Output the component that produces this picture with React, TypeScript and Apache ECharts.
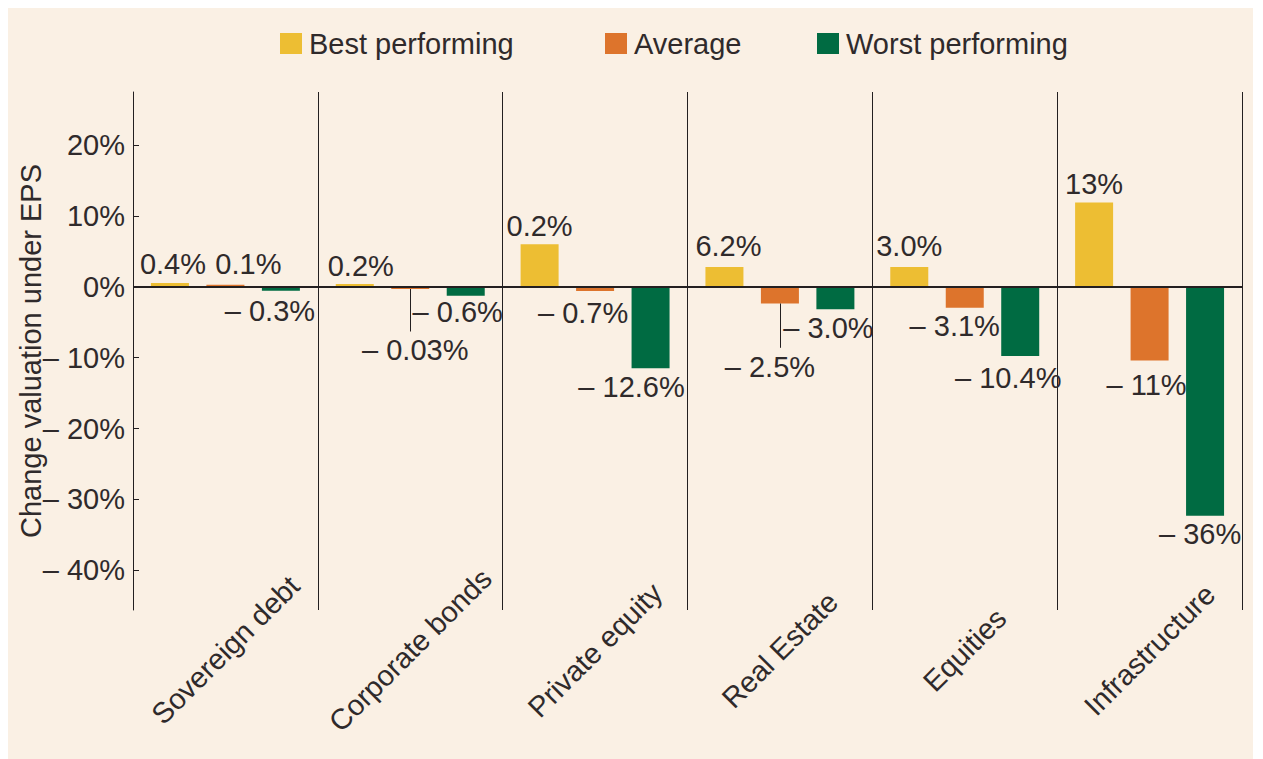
import React, { useEffect, useRef } from "react";
import * as echarts from "echarts";

const categories = ["Sovereign debt", "Corporate bonds", "Private equity", "Real Estate", "Equities", "Infrastructure"];
const seriesNames = ["Best performing", "Average", "Worst performing"];
const bestValues = [0.55, 0.4, 6.0, 2.8, 2.8, 11.9];
const averageValues = [0.3, -0.3, -0.6, -2.35, -2.95, -10.4];
const worstValues = [-0.55, -1.25, -11.5, -3.15, -9.75, -32.3];
const bestLabels = ["0.4%", "0.2%", "0.2%", "6.2%", "3.0%", "13%"];
const averageLabels = ["0.1%", "– 0.03%", "– 0.7%", "– 2.5%", "– 3.1%", "– 11%"];
const worstLabels = ["– 0.3%", "– 0.6%", "– 12.6%", "– 3.0%", "– 10.4%", "– 36%"];
const yTicks = [-40, -30, -20, -10, 0, 10, 20];

// styling: label nudges (px) and leader-line ends
const bestOffsets = [[3, 0], [6, 0], [0, 0], [4, -3], [0, -3], [0, 0]];
const averageOffsets = [[23, -2], [5, 43], [-12, 3], [-10, 45], [-10, 0], [-3, 6]];
const worstOffsets = [[-11, 2], [-8, -2], [-19, 0], [-7, 0], [-12, 4], [-5, 0]];
const leaderIndexes = [1, 3];
const leaderEnds = [-6.3, -8.6];

const COLORS = ["#EDBE33", "#DD742C", "#006B42"];
const TEXT = "#2f2a2b";
const LINE = "#231f20";
const BG = "#FAF0E4";
const FONT = "Liberation Sans, Arial, sans-serif";
const FS = 29;

function makeSeries(name: string, values: number[], labels: string[], offsets: number[][], color: string, extra: any) {
  return {
    name,
    type: "bar",
    barWidth: 38,
    barGap: "46%",
    itemStyle: { color },
    label: {
      show: true,
      distance: 4,
      fontSize: FS,
      fontFamily: FONT,
      color: TEXT,
      formatter: (p: any) => labels[p.dataIndex],
    },
    data: values.map((v, i) => ({
      value: v,
      label: { position: v >= 0 ? "top" : "bottom", offset: offsets[i] },
    })),
    ...extra,
  };
}

export default function App() {
  const ref = useRef<HTMLDivElement>(null);
  useEffect(() => {
    if (!ref.current) return;
    const chart = echarts.init(ref.current, undefined, { renderer: "svg" });
    const legendBase = {
      icon: "rect",
      itemWidth: 22,
      itemHeight: 21,
      top: 21,
      textStyle: { fontSize: FS, fontFamily: FONT, color: TEXT, lineHeight: 29, padding: [0, 0, 0, 2] },
    };
    chart.setOption({
      animation: false,
      backgroundColor: BG,
      color: COLORS,
      legend: [
        { ...legendBase, data: [seriesNames[0]], left: 267 },
        { ...legendBase, data: [seriesNames[1]], left: 592 },
        { ...legendBase, data: [seriesNames[2]], left: 804 },
      ],
      grid: { left: 125, right: 11, top: 89, bottom: 149, containLabel: false, outerBoundsMode: "none" },
      xAxis: {
        type: "category",
        data: categories,
        position: "bottom",
        axisLine: { show: false },
        axisTick: { show: false },
        splitLine: { show: true, interval: 0, lineStyle: { color: LINE, width: 1 } },
        axisLabel: {
          interval: 0,
          rotate: 45,
          align: "center",
          verticalAlign: "middle",
          margin: 40,
          fontSize: FS,
          fontFamily: FONT,
          color: TEXT,
        },
      },
      yAxis: {
        type: "value",
        min: -45.6,
        max: 27.5,
        name: "Change valuation under EPS",
        nameLocation: "middle",
        nameGap: 88,
        nameMoveOverlap: false,
        nameTextStyle: { fontSize: FS, fontFamily: FONT, color: TEXT },
        axisLine: { show: true, lineStyle: { color: LINE, width: 1 } },
        axisTick: { show: true, inside: true, length: 6, customValues: yTicks, lineStyle: { color: LINE } },
        splitLine: { show: false },
        axisLabel: {
          customValues: yTicks,
          margin: 8,
          fontSize: FS,
          fontFamily: FONT,
          color: TEXT,
          formatter: (v: number) => (v < 0 ? "– " + Math.abs(v) + "%" : v + "%"),
        },
      },
      series: [
        makeSeries(seriesNames[0], bestValues, bestLabels, bestOffsets, COLORS[0], {}),
        makeSeries(seriesNames[1], averageValues, averageLabels, averageOffsets, COLORS[1], {
          markLine: {
            silent: true,
            symbol: ["none", "none"],
            label: { show: false },
            lineStyle: { color: LINE, width: 1, type: "solid" },
            data: leaderIndexes.map((idx, k) => [
              { coord: [idx, averageValues[idx]] },
              { coord: [idx, leaderEnds[k]] },
            ]),
          },
        }),
        makeSeries(seriesNames[2], worstValues, worstLabels, worstOffsets, COLORS[2], {
          markLine: {
            silent: true,
            symbol: ["none", "none"],
            label: { show: false },
            lineStyle: { color: LINE, width: 2, type: "solid" },
            data: [{ yAxis: 0 }],
          },
        }),
      ],
    });
    return () => chart.dispose();
  }, []);
  return <div ref={ref} style={{ width: 1245, height: 756, marginTop: -5, background: BG }} />;
}
